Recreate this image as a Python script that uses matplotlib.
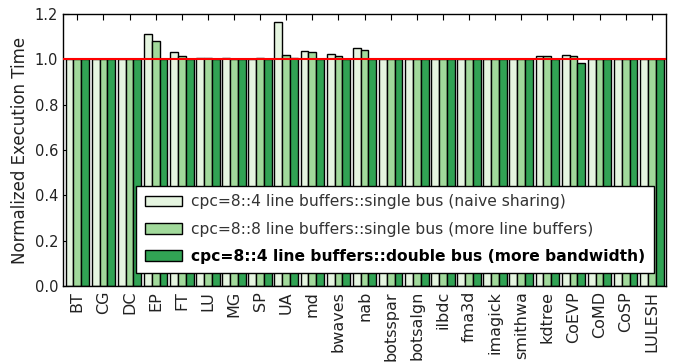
import matplotlib
matplotlib.use("Agg")
import matplotlib.pyplot as plt
import numpy as np

categories = ["BT", "CG", "DC", "EP", "FT", "LU", "MG", "SP", "UA", "md", "bwaves", "nab",
              "botsspar", "botsalgn", "ilbdc", "fma3d", "imagick", "smithwa", "kdtree",
              "CoEVP", "CoMD", "CoSP", "LULESH"]
naive = [1.0, 1.0, 1.0, 1.109, 1.031, 1.004, 1.005, 1.003, 1.166, 1.035, 1.024, 1.050,
         1.0, 1.0, 1.0, 1.003, 1.0, 1.0, 1.015, 1.019, 1.0, 1.0, 1.0]
more_buffers = [1.0, 1.0, 1.0, 1.079, 1.015, 1.004, 1.0, 1.005, 1.019, 1.032, 1.015, 1.041,
                1.0, 1.0, 1.0, 1.003, 1.0, 1.0, 1.015, 1.012, 1.0, 1.0, 1.0]
double_bus = [1.0, 1.0, 1.0, 1.0, 1.0, 1.0, 1.0, 1.0, 1.006, 1.0, 1.0, 1.0,
              1.0, 1.0, 1.0, 1.0, 1.0, 1.0, 1.0, 0.982, 1.0, 1.0, 1.0]
labels = ["cpc=8::4 line buffers::single bus (naive sharing)",
          "cpc=8::8 line buffers::single bus (more line buffers)",
          "cpc=8::4 line buffers::double bus (more bandwidth)"]
colors = ["#e5f5e0", "#a1d99b", "#31a354"]

fig = plt.figure(figsize=(6.77, 3.64), dpi=100)
ax = fig.add_axes([0.093, 0.214, 0.891, 0.748])

x = np.arange(len(categories))
w = 0.3
for i, (vals, lab, c) in enumerate(zip([naive, more_buffers, double_bus], labels, colors)):
    ax.bar(x + (i - 1) * w, vals, w, color=c, edgecolor="black", linewidth=1.0, label=lab, zorder=2)

ax.axhline(1.0, color="red", linewidth=1.5, zorder=3)
ax.set_xlim(-0.55, len(categories) - 0.45)
ax.set_ylim(0, 1.2)
ax.set_yticks(np.arange(0, 1.21, 0.2))
ax.set_yticklabels([f"{v:.1f}" for v in np.arange(0, 1.21, 0.2)], fontsize=10.5, color="#222222")
ax.set_xticks(x)
ax.set_xticklabels(categories, rotation=90, fontsize=11.5, color="#222222")
ax.tick_params(axis="x", direction="in", top=True, bottom=True, length=4)
ax.tick_params(axis="y", direction="in", left=True, right=False, length=4)
ax.set_ylabel("Normalized Execution Time", fontsize=12, color="#222222")
for s in ax.spines.values():
    s.set_linewidth(1.0)

leg = ax.legend(loc="lower right", bbox_to_anchor=(0.993, 0.02), fontsize=11.2, frameon=True,
                fancybox=False, edgecolor="black", framealpha=1, handlelength=2.4,
                handleheight=0.7, borderpad=0.55, labelspacing=0.8, handletextpad=0.6)
leg.get_frame().set_linewidth(1.0)
for t in leg.get_texts():
    t.set_color("#333333")
leg.get_texts()[2].set_fontweight("bold")
leg.get_texts()[2].set_color("black")

fig.savefig("out.png", dpi=100)
